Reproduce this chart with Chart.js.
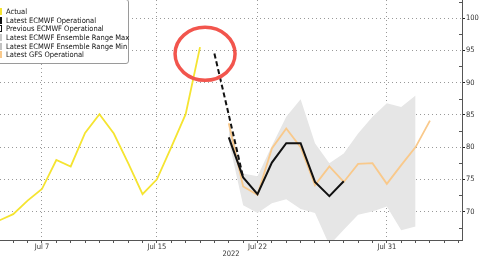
<!DOCTYPE html>
<html>
<head>
<meta charset="utf-8">
<script src="https://cdn.jsdelivr.net/npm/chart.js@4.4.1/dist/chart.umd.min.js"></script>
<style>
  html, body { margin: 0; padding: 0; background: #fff; }
  #wrap { position: relative; width: 485px; height: 259px; overflow: hidden; }
  #legend {
    position: absolute; left: -5px; top: -1px; width: 134px; height: 65px;
    box-sizing: border-box; border: 1px solid #9a9a9a; border-radius: 3px;
    background: #fff; padding-top: 7px;
    font: 7.5px "DejaVu Sans Condensed", "DejaVu Sans", sans-serif; color: #111;
  }
  #legend .row { display: flex; align-items: center; height: 8.7px; white-space: nowrap; }
  #legend .sw { width: 6px; height: 7px; margin-right: 4px; box-sizing: border-box; flex: none; }
</style>
</head>
<body>
<div id="wrap">
  <canvas id="chart" width="485" height="259"></canvas>
  <div id="legend"></div>
</div>
<script>
// days are July day numbers (Aug 1 = 32)
const actualDays   = [4, 5, 6, 7, 8, 9, 10, 11, 12, 13, 14, 15, 16, 17, 18];
const actualValues = [68.6, 69.6, 71.7, 73.5, 78.0, 77.0, 82.2, 85.1, 82.1, 77.5, 72.7, 75.0, 80.0, 85.1, 95.5];

const latestEcmwfDays   = [20, 21, 22, 23, 24, 25, 26, 27, 28];
const latestEcmwfValues = [81.5, 75.3, 72.7, 77.6, 80.6, 80.6, 74.6, 72.4, 74.7];

const prevEcmwfDays   = [19, 20, 21];
const prevEcmwfValues = [94.5, 85.0, 75.3];

const ensembleDays = [20, 21, 22, 23, 24, 25, 26, 27, 28, 29, 30, 31, 32, 33];
const ensembleMax  = [84.0, 75.9, 75.5, 80.2, 84.7, 87.4, 80.6, 77.5, 79.0, 82.1, 84.7, 86.8, 86.2, 88.0];
const ensembleMin  = [81.0, 71.0, 69.8, 71.3, 71.9, 70.4, 69.8, 64.8, 67.2, 69.5, 70.0, 70.8, 67.1, 67.7];

const gfsDays   = [20, 21, 22, 23, 24, 25, 26, 27, 28, 29, 30, 31, 32, 33, 34];
const gfsValues = [83.7, 73.9, 72.6, 79.8, 82.9, 80.0, 74.1, 77.0, 74.6, 77.4, 77.5, 74.3, 77.2, 80.0, 84.1];

const xLabelDays = [7, 15, 22, 31];
const xLabels    = ["Jul 7", "Jul 15", "Jul 22", "Jul 31"];
const yTicks     = [70, 75, 80, 85, 90, 95, 100];
const yearLabel  = "2022";

const seriesNames = [
  "Actual",
  "Latest ECMWF Operational",
  "Previous ECMWF Operational",
  "Latest ECMWF Ensemble Range Max",
  "Latest ECMWF Ensemble Range Min",
  "Latest GFS Operational"
];

const colors = {
  actual: "#f5e431",
  latest: "#111111",
  prev: "#111111",
  band: "#e6e6e6",
  gfs: "#f9c98b"
};

const pts = (days, vals) => days.map((d, i) => ({ x: d, y: vals[i] }));
const font = { family: "'DejaVu Sans Condensed', 'DejaVu Sans', sans-serif", size: 7.5 };
const allDays = [];
for (let d = 5; d <= 36; d++) allDays.push(d);

// legend (top left box)
const swatches = [
  { background: colors.actual },
  { background: colors.latest },
  { background: "#fff", border: "1px solid #111" },
  { background: "#c9c9c9" },
  { background: "#c2c2c2" },
  { background: colors.gfs }
];
const legend = document.getElementById("legend");
seriesNames.forEach((name, i) => {
  const row = document.createElement("div");
  row.className = "row";
  const sw = document.createElement("span");
  sw.className = "sw";
  sw.style.background = swatches[i].background;
  if (swatches[i].border) sw.style.border = swatches[i].border;
  row.appendChild(sw);
  row.appendChild(document.createTextNode(name));
  legend.appendChild(row);
});

// minor ticks inside the value axis + red ring annotation
const extras = {
  id: "extras",
  afterDraw(chart) {
    const { ctx, scales: { x, y } } = chart;
    ctx.save();
    ctx.strokeStyle = "#555";
    ctx.lineWidth = 1;
    yTicks.concat([yTicks[yTicks.length - 1] + 5]).forEach(v => {
      const py = Math.round(y.getPixelForValue(v - 2.5)) + 0.5;
      ctx.beginPath();
      ctx.moveTo(x.right - 3, py);
      ctx.lineTo(x.right, py);
      ctx.stroke();
    });
    ctx.strokeStyle = "#f2554d";
    ctx.lineWidth = 3.5;
    ctx.beginPath();
    ctx.ellipse(x.getPixelForValue(18.35), y.getPixelForValue(94.45), 30, 26.5, 0, 0, Math.PI * 2);
    ctx.stroke();
    ctx.restore();
  }
};

new Chart(document.getElementById("chart").getContext("2d"), {
  type: "line",
  data: {
    datasets: [
      { label: seriesNames[2], data: pts(prevEcmwfDays, prevEcmwfValues), borderColor: colors.prev, borderWidth: 2, borderDash: [5, 3] },
      { label: seriesNames[1], data: pts(latestEcmwfDays, latestEcmwfValues), borderColor: colors.latest, borderWidth: 2 },
      { label: seriesNames[0], data: pts(actualDays, actualValues), borderColor: colors.actual, borderWidth: 1.8 },
      { label: seriesNames[5], data: pts(gfsDays, gfsValues), borderColor: colors.gfs, borderWidth: 1.8 },
      { label: seriesNames[3], data: pts(ensembleDays, ensembleMax), borderWidth: 0, borderColor: colors.band, backgroundColor: colors.band, fill: "+1" },
      { label: seriesNames[4], data: pts(ensembleDays, ensembleMin), borderWidth: 0, borderColor: colors.band, backgroundColor: colors.band, fill: false }
    ]
  },
  options: {
    responsive: false,
    animation: false,
    devicePixelRatio: 1,
    layout: { padding: 0 },
    elements: { point: { radius: 0 }, line: { tension: 0 } },
    plugins: { legend: { display: false }, tooltip: { enabled: false } },
    scales: {
      x: {
        type: "linear",
        min: 4.08,
        max: 36.23,
        afterBuildTicks: s => { s.ticks = allDays.map(v => ({ value: v })); },
        afterFit: s => { s.height = 19; s.paddingLeft = 0; s.paddingRight = 0; },
        ticks: {
          autoSkip: false, maxRotation: 0, padding: 0, font, color: "#333",
          callback: v => { const i = xLabelDays.indexOf(v); return i >= 0 ? xLabels[i] : ""; }
        },
        grid: {
          color: c => (c.tick && xLabelDays.includes(c.tick.value)) ? "#999" : "rgba(0,0,0,0)",
          tickColor: "#555", tickLength: 3, lineWidth: 1
        },
        border: { color: "#555", width: 1, dash: [1, 3] },
        title: { display: true, text: yearLabel, font, color: "#333", padding: 0 }
      },
      y: {
        position: "right",
        min: 65.6,
        max: 102.8,
        afterBuildTicks: s => { s.ticks = yTicks.map(v => ({ value: v })); },
        afterFit: s => { s.width = 23; s.paddingTop = 0; s.paddingBottom = 0; },
        ticks: { padding: 1, font, color: "#333" },
        grid: { color: "#999", tickColor: "#222", tickLength: 3, lineWidth: 1 },
        border: { color: "#555", width: 1, dash: [1, 3] }
      }
    }
  },
  plugins: [extras]
});
</script>
</body>
</html>
